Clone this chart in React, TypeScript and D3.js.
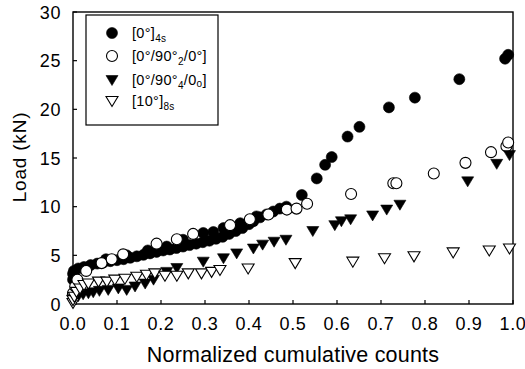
import React from "react";
import * as d3 from "d3";

// [0°]4s - filled circles
const s1X = [0.0, 0.0, 0.002, 0.012, 0.025, 0.04, 0.055, 0.07, 0.075, 0.085, 0.1, 0.115, 0.122, 0.13, 0.145, 0.16, 0.17, 0.175, 0.19, 0.205, 0.213, 0.22, 0.235, 0.25, 0.25, 0.265, 0.28, 0.295, 0.296, 0.31, 0.319, 0.325, 0.34, 0.342, 0.355, 0.37, 0.38, 0.385, 0.4, 0.41, 0.417, 0.425, 0.44, 0.455, 0.47, 0.485, 0.52, 0.554, 0.573, 0.588, 0.624, 0.651, 0.718, 0.777, 0.878, 0.982, 0.989];
const s1Y = [2.5, 3.1, 3.4, 3.65, 3.8, 4.0, 4.15, 4.3, 4.6, 4.4, 4.5, 4.6, 5.0, 4.75, 4.9, 5.05, 5.5, 5.2, 5.35, 5.5, 5.9, 5.6, 5.75, 5.9, 6.6, 6.05, 6.2, 6.35, 7.3, 6.5, 7.4, 6.7, 6.9, 7.8, 7.2, 7.5, 8.3, 7.8, 8.2, 8.5, 9.0, 8.9, 9.2, 9.5, 9.8, 10.0, 11.2, 12.9, 14.3, 15.1, 17.2, 18.2, 20.2, 21.2, 23.1, 25.2, 25.6];

// [0°/90°2/0°] - open circles
const s2X = [0.0, 0.005, 0.01, 0.03, 0.065, 0.088, 0.114, 0.19, 0.236, 0.273, 0.357, 0.402, 0.444, 0.486, 0.508, 0.532, 0.632, 0.728, 0.735, 0.82, 0.892, 0.95, 0.985, 0.989];
const s2Y = [1.1, 1.8, 2.5, 3.4, 4.2, 4.6, 5.1, 6.2, 6.65, 7.2, 8.1, 8.7, 9.2, 9.7, 9.8, 10.3, 11.3, 12.4, 12.4, 13.4, 14.5, 15.6, 16.2, 16.6];

// [0°/90°4/0°] - filled triangles
const s3X = [0.0, 0.012, 0.023, 0.035, 0.046, 0.06, 0.08, 0.103, 0.122, 0.141, 0.164, 0.183, 0.213, 0.236, 0.296, 0.342, 0.372, 0.41, 0.431, 0.457, 0.484, 0.545, 0.595, 0.61, 0.631, 0.681, 0.713, 0.743, 0.897, 0.963, 0.992];
const s3Y = [0.5, 0.8, 1.0, 1.1, 1.2, 1.35, 1.45, 1.6, 1.45, 1.8, 2.1, 2.5, 3.3, 3.7, 4.35, 4.7, 5.2, 5.7, 6.1, 6.4, 6.6, 7.5, 8.1, 8.5, 8.7, 9.1, 9.7, 10.2, 12.6, 14.4, 15.3];

// [10°]8s - open triangles
const s4X = [0.0, 0.0, 0.003, 0.008, 0.016, 0.025, 0.035, 0.058, 0.077, 0.095, 0.118, 0.145, 0.167, 0.186, 0.209, 0.236, 0.262, 0.292, 0.315, 0.334, 0.398, 0.505, 0.636, 0.708, 0.775, 0.864, 0.946, 0.992];
const s4Y = [0.1, 0.4, 0.75, 1.25, 1.6, 1.95, 2.1, 2.3, 2.3, 2.5, 2.6, 2.8, 3.0, 3.15, 2.9, 2.9, 3.15, 3.15, 3.3, 3.5, 3.65, 4.2, 4.35, 4.7, 4.9, 5.3, 5.5, 5.7];

const xTicks = [0, 0.1, 0.2, 0.3, 0.4, 0.5, 0.6, 0.7, 0.8, 0.9, 1.0];
const yTicks = [0, 5, 10, 15, 20, 25, 30];

const font = "'Liberation Sans', Arial, Helvetica, sans-serif";

const x = d3.scaleLinear().domain([0, 1]).range([73, 513]);
const y = d3.scaleLinear().domain([0, 30]).range([304, 12]);

const circlePath = d3.symbol().type(d3.symbolCircle).size(95)();
const triPath = "M-6,-4.5L6,-4.5L0,5.5Z";

const Marker = ({ kind, cx, cy }) => {
    const filled = kind === 0 || kind === 2;
    const d = kind < 2 ? circlePath : triPath;
    return (
        <path
            d={d}
            transform={`translate(${cx},${cy})`}
            fill={filled ? "#000" : "#fff"}
            stroke="#000"
            strokeWidth={filled ? 0.6 : 1.1}
        />
    );
};

const series = [
    { xs: s1X, ys: s1Y },
    { xs: s2X, ys: s2Y },
    { xs: s3X, ys: s3Y },
    { xs: s4X, ys: s4Y },
];

const App = () => {
    const [x0, x1] = x.range();
    const [y0, y1] = y.range();
    return (
        <svg width={525} height={369} style={{ position: "absolute", left: 0, top: 0, background: "#fff" }} fontFamily={font}>
            {/* frame */}
            <rect x={x0} y={y1} width={x1 - x0} height={y0 - y1} fill="none" stroke="#000" strokeWidth={1.4} />

            {xTicks.map((t, i) => (
                <g key={"xt" + i}>
                    <line x1={x(t)} x2={x(t)} y1={y0} y2={y0 - 4} stroke="#000" strokeWidth={1.2} />
                    <text x={x(t)} y={330} textAnchor="middle" fontSize={18} letterSpacing={0.6}>{d3.format(".1f")(t)}</text>
                </g>
            ))}
            {yTicks.map((t, i) => (
                <g key={"yt" + i}>
                    <line x1={x0} x2={x0 + 4} y1={y(t)} y2={y(t)} stroke="#000" strokeWidth={1.2} />
                    <text x={61} y={y(t) + 6.5} textAnchor="end" fontSize={18} letterSpacing={0.6}>{t}</text>
                </g>
            ))}

            <text x={293} y={362} textAnchor="middle" fontSize={21.5} letterSpacing={0.2}>Normalized cumulative counts</text>
            <text transform="translate(26,157) rotate(-90)" textAnchor="middle" fontSize={19} letterSpacing={0.8}>{"Load  (kN)"}</text>

            {series.map((s, k) => (
                <g key={"s" + k}>
                    {s.xs.map((v, i) => (
                        <Marker key={i} kind={k} cx={x(v)} cy={y(s.ys[i])} />
                    ))}
                </g>
            ))}

            {/* legend */}
            <rect x={86} y={15} width={132} height={110} fill="#fff" stroke="#000" strokeWidth={1.2} />
            <Marker kind={0} cx={112} cy={33} />
            <Marker kind={1} cx={112} cy={56} />
            <Marker kind={2} cx={112} cy={80} />
            <Marker kind={3} cx={112} cy={101} />
            <g fontSize={14.5} letterSpacing={0.3}>
                <text x={132} y={38}>[0°]<tspan fontSize={10} dy={4}>4s</tspan></text>
                <text x={132} y={61}>[0°/90°<tspan fontSize={10} dy={4}>2</tspan><tspan dy={-4}>/0°]</tspan></text>
                <text x={132} y={85}>[0°/90°<tspan fontSize={10} dy={4}>4</tspan><tspan dy={-4}>/0</tspan><tspan fontSize={10} dy={2}>o</tspan><tspan dy={-2}>]</tspan></text>
                <text x={132} y={106}>[10°]<tspan fontSize={10} dy={4}>8s</tspan></text>
            </g>
        </svg>
    );
};

export default App;
